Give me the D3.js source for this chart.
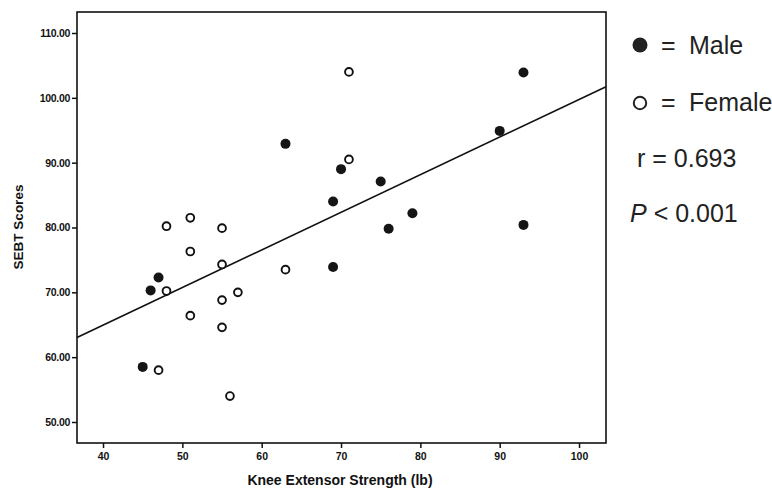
<!DOCTYPE html>
<html>
<head>
<meta charset="utf-8">
<script src="https://cdn.jsdelivr.net/npm/d3@7/dist/d3.min.js"></script>
<style>
  html, body { margin: 0; padding: 0; background: #fff; }
  svg { display: block; }
</style>
</head>
<body>
<svg id="chart" width="772" height="491"></svg>
<script>
// ---- data ----
const maleX = [47, 46, 45, 63, 70, 75, 69, 79, 76, 69, 93, 90, 93];
const maleY = [72.3, 70.3, 58.5, 92.9, 89.0, 87.1, 84.0, 82.2, 79.8, 73.9, 103.9, 94.9, 80.4];
const femaleX = [48, 51, 55, 51, 55, 48, 57, 55, 51, 55, 47, 56, 63, 71, 71];
const femaleY = [80.2, 81.5, 79.9, 76.3, 74.3, 70.2, 70.0, 68.8, 66.4, 64.6, 58.0, 54.0, 73.5, 104.0, 90.5];
const fitLine = [41.75, 0.580];            // intercept, slope
const xTicks = [40, 50, 60, 70, 80, 90, 100];
const yTicks = [50, 60, 70, 80, 90, 100, 110];
const legendLabels = ["Male", "Female"];
const statLabels = ["r = 0.693", "< 0.001"];
const xTitle = "Knee Extensor Strength (lb)";
const yTitle = "SEBT Scores";

// ---- layout ----
const svg = d3.select("#chart");
const L = 77, R = 606, T = 12, B = 443;
const x = d3.scaleLinear().domain([36.72, 103.4]).range([L, R]);
const y = d3.scaleLinear().domain([46.76, 113.24]).range([B, T]);

const tickFont = "'Liberation Sans', Arial, sans-serif";

// frame
svg.append("rect")
  .attr("x", L).attr("y", T).attr("width", R - L).attr("height", B - T)
  .attr("fill", "none").attr("stroke", "#111").attr("stroke-width", 1.6);

// x axis
const xAxis = svg.append("g").attr("transform", `translate(0,${B})`)
  .call(d3.axisBottom(x).tickValues(xTicks).tickSize(5).tickPadding(5).tickFormat(d3.format("d")));
xAxis.select(".domain").remove();
xAxis.selectAll("line").attr("stroke", "#111").attr("stroke-width", 1.5);
xAxis.selectAll("text").attr("font-family", tickFont).attr("font-weight", "bold")
  .attr("font-size", 10.5).attr("fill", "#111");

// y axis
const yAxis = svg.append("g").attr("transform", `translate(${L},0)`)
  .call(d3.axisLeft(y).tickValues(yTicks).tickSize(5).tickPadding(2).tickFormat(d3.format(".2f")));
yAxis.select(".domain").remove();
yAxis.selectAll("line").attr("stroke", "#111").attr("stroke-width", 1.5);
yAxis.selectAll("text").attr("font-family", tickFont).attr("font-weight", "bold")
  .attr("font-size", 10.5).attr("letter-spacing", -0.3).attr("fill", "#111");

// axis titles
svg.append("text").attr("x", 340).attr("y", 485).attr("text-anchor", "middle")
  .attr("font-family", tickFont).attr("font-weight", "bold").attr("font-size", 14)
  .attr("fill", "#111").text(xTitle);
svg.append("text").attr("transform", "translate(23,227) rotate(-90)").attr("text-anchor", "middle")
  .attr("font-family", tickFont).attr("font-weight", "bold").attr("font-size", 13.5)
  .attr("fill", "#111").text(yTitle);

// regression line
const x0 = x.domain()[0], x1 = x.domain()[1];
svg.append("line")
  .attr("x1", x(x0)).attr("y1", y(fitLine[0] + fitLine[1] * x0))
  .attr("x2", x(x1)).attr("y2", y(fitLine[0] + fitLine[1] * x1))
  .attr("stroke", "#111").attr("stroke-width", 1.6);

// points
const male = maleX.map((v, i) => ({ x: v, y: maleY[i] }));
const female = femaleX.map((v, i) => ({ x: v, y: femaleY[i] }));
svg.append("g").selectAll("circle").data(female).join("circle")
  .attr("cx", d => x(d.x)).attr("cy", d => y(d.y)).attr("r", 3.9)
  .attr("fill", "#fff").attr("stroke", "#111").attr("stroke-width", 1.9);
svg.append("g").selectAll("circle").data(male).join("circle")
  .attr("cx", d => x(d.x)).attr("cy", d => y(d.y)).attr("r", 5)
  .attr("fill", "#151515");

// legend
const legFont = "'Liberation Sans', Arial, sans-serif";
svg.append("circle").attr("cx", 640).attr("cy", 45).attr("r", 7.5).attr("fill", "#222");
svg.append("circle").attr("cx", 640).attr("cy", 103).attr("r", 6.2).attr("fill", "none")
  .attr("stroke", "#222").attr("stroke-width", 2);
[54, 111].forEach((yy, i) => {
  svg.append("text").attr("x", 661).attr("y", yy).attr("font-family", legFont)
    .attr("font-size", 25).attr("fill", "#222").text("=");
  svg.append("text").attr("x", 689).attr("y", yy).attr("font-family", legFont)
    .attr("font-size", 25).attr("fill", "#222").text(legendLabels[i]);
});
svg.append("text").attr("x", 637).attr("y", 167).attr("font-family", legFont)
  .attr("font-size", 25).attr("fill", "#222").text(statLabels[0]);
const pt = svg.append("text").attr("x", 630).attr("y", 222).attr("font-family", legFont)
  .attr("font-size", 25).attr("fill", "#222");
pt.append("tspan").attr("font-style", "italic").text("P");
pt.append("tspan").text(" " + statLabels[1]);
</script>
</body>
</html>
